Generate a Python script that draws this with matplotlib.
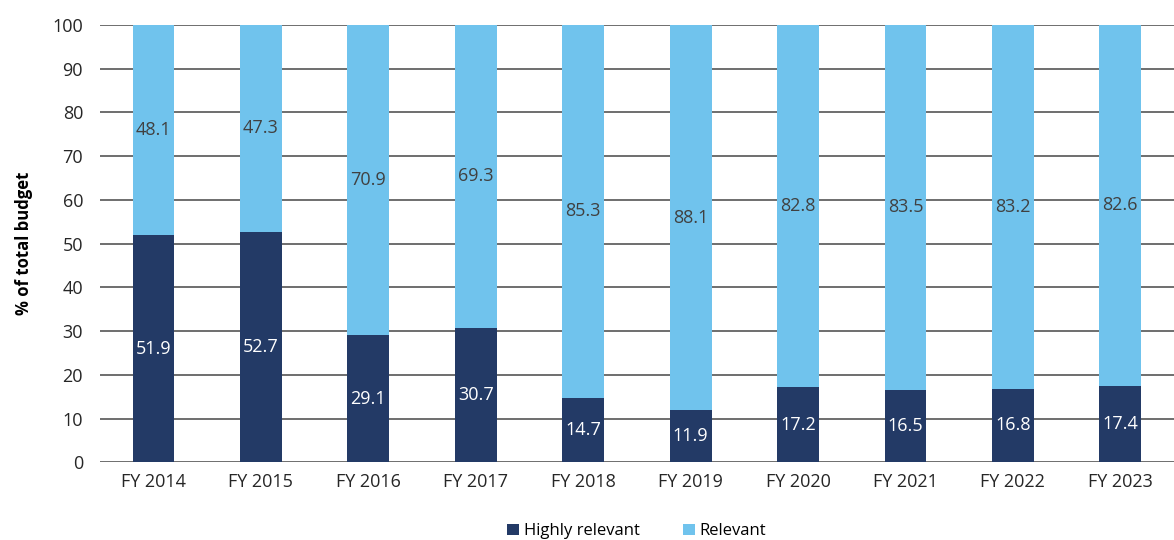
import numpy as np
import matplotlib.pyplot as plt

plt.rcParams['font.family'] = ['Open Sans', 'DejaVu Sans']

years = ["FY 2014", "FY 2015", "FY 2016", "FY 2017", "FY 2018",
         "FY 2019", "FY 2020", "FY 2021", "FY 2022", "FY 2023"]
highly = [51.9, 52.7, 29.1, 30.7, 14.7, 11.9, 17.2, 16.5, 16.8, 17.4]
relevant = [48.1, 47.3, 70.9, 69.3, 85.3, 88.1, 82.8, 83.5, 83.2, 82.6]

dark = "#233a66"
light = "#70c3ed"

fig = plt.figure(figsize=(11.74, 5.4), dpi=100)
ax = fig.add_axes([0.085, 0.144, 0.915, 0.81])

x = np.arange(len(years))
b1 = ax.bar(x, highly, width=0.39, color=dark, label="Highly relevant", zorder=3)
b2 = ax.bar(x, relevant, width=0.39, bottom=highly, color=light, label="Relevant", zorder=3)

ax.bar_label(b1, labels=[f"{v:.1f}" for v in highly], label_type="center",
             color="white", fontsize=13)
ax.bar_label(b2, labels=[f"{v:.1f}" for v in relevant], label_type="center",
             color="#404040", fontsize=13)

ax.set_xlim(-0.5, len(years) - 0.5)
ax.set_ylim(0, 100)
ax.set_yticks(range(0, 101, 10))
ax.set_xticks(x)
ax.set_xticklabels(years)
ax.tick_params(length=0, labelsize=13, colors="#262626", pad=8)
ax.tick_params(axis="y", pad=12)
ax.grid(axis="y", color="#555555", linewidth=1.2, zorder=0)
for s in ax.spines.values():
    s.set_visible(False)
ax.set_ylabel("% of total budget", fontsize=12, fontweight="bold", labelpad=14)

ax.legend(loc="upper center", bbox_to_anchor=(0.5, -0.105), ncol=2, frameon=False,
          fontsize=12, handlelength=0.7, handleheight=0.7, handletextpad=0.3,
          columnspacing=2.6)

plt.savefig("out.png", dpi=100)
